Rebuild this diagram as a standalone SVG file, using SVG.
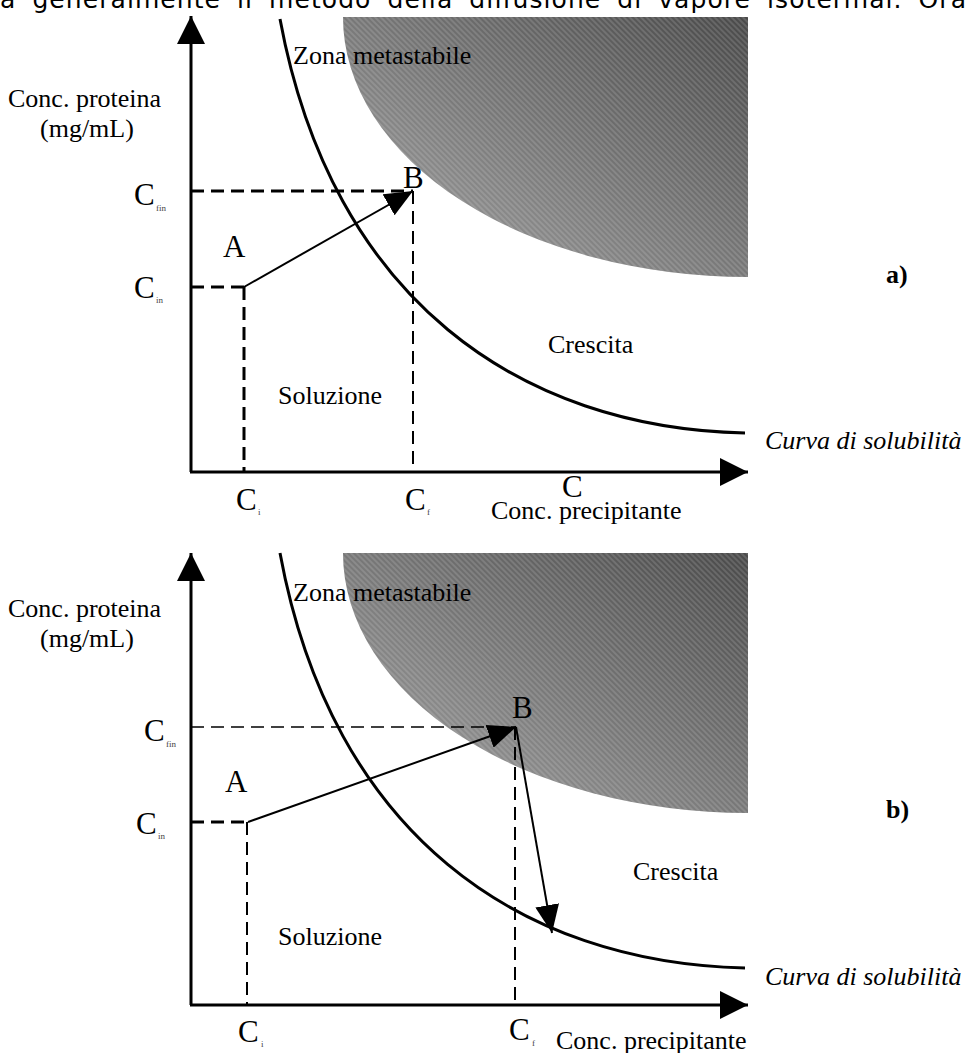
<svg xmlns="http://www.w3.org/2000/svg" width="968" height="1053" viewBox="0 0 968 1053">
<style>
text{font-family:"Liberation Serif","Times New Roman",serif;fill:#000}
.t{font-size:26px}
.big{font-size:31px}
.sub{font-size:9px;fill:#444}
.it{font-style:italic}
.bold{font-weight:bold}
.top{font-family:"DejaVu Sans","Liberation Sans",sans-serif;font-size:25px;word-spacing:7px}
.axis{stroke:#000;stroke-width:3;fill:none}
.curve{stroke:#000;stroke-width:3;fill:none}
.arrow{stroke:#000;stroke-width:2;fill:none}
.dthick{stroke:#000;stroke-width:3;stroke-dasharray:13 7;fill:none}
.dmid{stroke:#000;stroke-width:2;stroke-dasharray:13 7;fill:none}
.dthin{stroke:#000;stroke-width:1.3;stroke-dasharray:13 7;fill:none}
.shade{fill:url(#grad)}
.hatch{fill:url(#hatch)}
</style>
<defs>
<linearGradient id="grad" x1="0" y1="1" x2="1" y2="0">
<stop offset="0" stop-color="#a6a6a6"/>
<stop offset="1" stop-color="#4a4a4a"/>
</linearGradient>
<pattern id="hatch" width="4" height="4" patternUnits="userSpaceOnUse" patternTransform="rotate(-45)">
<line x1="1" y1="0" x2="1" y2="4" stroke="#ffffff" stroke-opacity="0.35" stroke-width="0.8"/>
</pattern>
<marker id="ah" markerUnits="userSpaceOnUse" markerWidth="28" markerHeight="24" refX="28" refY="12" orient="auto">
<path d="M0,0 L28,12 L0,24 Z" fill="#000"/>
</marker>
<marker id="axh" markerUnits="userSpaceOnUse" markerWidth="28" markerHeight="28" refX="28" refY="14" orient="auto">
<path d="M0,0 L28,14 L0,28 Z" fill="#000"/>
</marker>
</defs>
<rect width="968" height="1053" fill="#fff"/>
<text class="top" x="0" y="8" textLength="966" lengthAdjust="spacing">a generalmente il metodo della diffusione di vapore isotermal. Ora</text>

<g id="panel-a">
<g id="a-shade">
<path class="shade" d="M343,17 L748,17 L748,277 A405,260 0 0 1 343,17 Z"/>
<path class="hatch" d="M343,17 L748,17 L748,277 A405,260 0 0 1 343,17 Z"/>
</g>
<g id="a-connectors">
<line class="axis" x1="191" y1="472" x2="191" y2="16" marker-end="url(#axh)"/>
<line class="axis" x1="190" y1="472" x2="748" y2="472" marker-end="url(#axh)"/>
<path class="curve" d="M280,19 C332,300 520,428 745,433"/>
<line class="dthick" x1="191" y1="191" x2="413" y2="191"/>
<line class="dthick" x1="191" y1="287" x2="244" y2="287"/>
<line class="dthick" x1="244" y1="287" x2="244" y2="472"/>
<line class="dmid" x1="413" y1="191" x2="413" y2="472"/>
<line class="arrow" x1="244" y1="287" x2="413" y2="191" marker-end="url(#ah)"/>
</g>
<g id="a-labels">
<text class="t" x="8" y="107">Conc. proteina</text>
<text class="t" x="40" y="137">(mg/mL)</text>
<text class="t" x="293" y="64">Zona metastabile</text>
<text class="big" x="134" y="205">C</text><text class="sub" x="156" y="211">fin</text>
<text class="big" x="134" y="298">C</text><text class="sub" x="156" y="303">in</text>
<text class="big" x="223" y="257">A</text>
<text class="big" x="403" y="188">B</text>
<text class="t" x="548" y="353">Crescita</text>
<text class="t" x="278" y="404">Soluzione</text>
<text class="t bold" x="886" y="283">a)</text>
<text class="t it" x="765" y="449">Curva di solubilità</text>
<text class="big" x="236" y="510">C</text><text class="sub" x="258" y="515">i</text>
<text class="big" x="405" y="510">C</text><text class="sub" x="427" y="515">f</text>
<text class="big" x="562" y="497">C</text>
<text class="t" x="491" y="519">Conc. precipitante</text>
</g>
</g>

<g id="panel-b">
<g id="b-shade">
<path class="shade" d="M343,553 L748,553 L748,813 A405,260 0 0 1 343,553 Z"/>
<path class="hatch" d="M343,553 L748,553 L748,813 A405,260 0 0 1 343,553 Z"/>
</g>
<g id="b-connectors">
<line class="axis" x1="191" y1="1005" x2="191" y2="553" marker-end="url(#axh)"/>
<line class="axis" x1="190" y1="1005" x2="748" y2="1005" marker-end="url(#axh)"/>
<path class="curve" d="M280,553 C332,835 520,963 745,968"/>
<line class="dthin" x1="191" y1="727" x2="516" y2="727"/>
<line class="dthick" x1="191" y1="822" x2="247" y2="822"/>
<line class="dmid" x1="247" y1="822" x2="247" y2="1005"/>
<line class="dmid" x1="515" y1="727" x2="515" y2="1005"/>
<line class="arrow" x1="248" y1="822" x2="516" y2="727" marker-end="url(#ah)"/>
<line class="arrow" x1="516" y1="727" x2="552" y2="933" marker-end="url(#ah)"/>
</g>
<g id="b-labels">
<text class="t" x="8" y="617">Conc. proteina</text>
<text class="t" x="40" y="647">(mg/mL)</text>
<text class="t" x="293" y="601">Zona metastabile</text>
<text class="big" x="144" y="741">C</text><text class="sub" x="166" y="747">fin</text>
<text class="big" x="136" y="834">C</text><text class="sub" x="158" y="839">in</text>
<text class="big" x="225" y="792">A</text>
<text class="big" x="512" y="718">B</text>
<text class="t" x="633" y="880">Crescita</text>
<text class="t" x="278" y="945">Soluzione</text>
<text class="t bold" x="886" y="818">b)</text>
<text class="t it" x="765" y="985">Curva di solubilità</text>
<text class="big" x="238" y="1042">C</text><text class="sub" x="261" y="1047">i</text>
<text class="big" x="509" y="1040">C</text><text class="sub" x="532" y="1046">f</text>
<text class="t" x="556" y="1049">Conc. precipitante</text>
</g>
</g>
</svg>
